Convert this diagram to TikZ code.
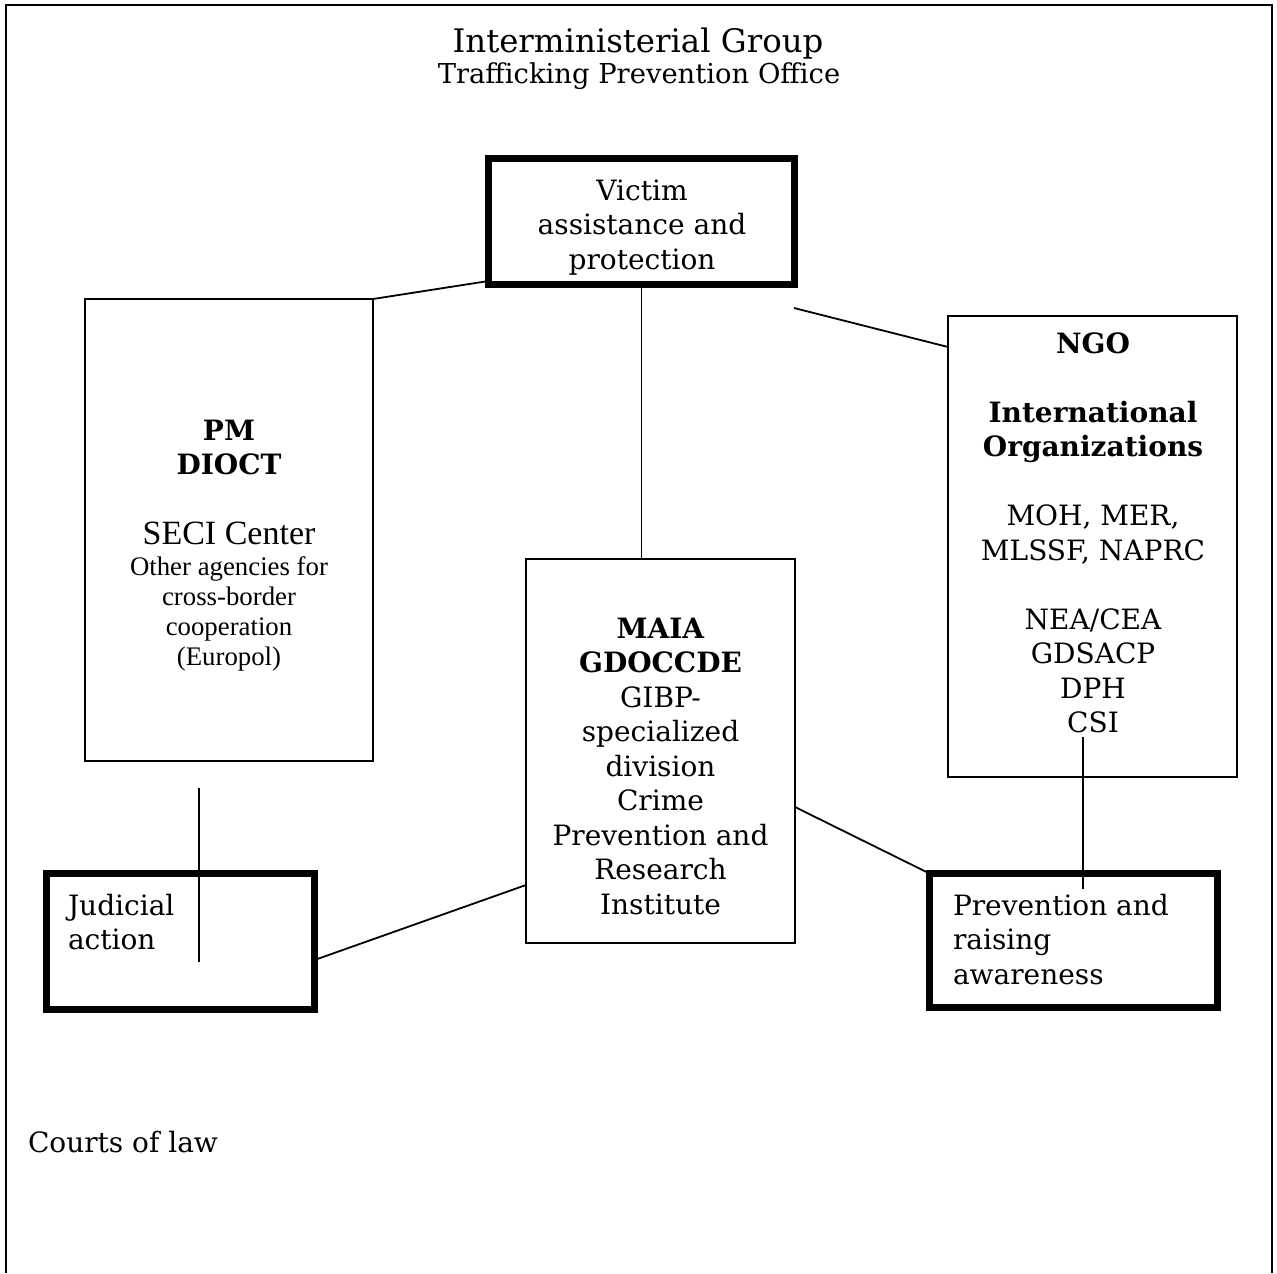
\documentclass[tikz,border=0pt]{standalone}
\usepackage{fontspec}
\setmainfont{DejaVu Serif}
\newfontfamily\tnr{Liberation Serif}
\usetikzlibrary{calc}
\newcommand\clines[1]{\begin{tabular}[t]{@{}c@{}}#1\end{tabular}}
\newcommand\llines[1]{\begin{tabular}[t]{@{}l@{}}#1\end{tabular}}
\tikzset{
  thinbox/.style={draw, line width=0.9pt, inner sep=0pt, outer sep=0pt},
  thickbox/.style={draw, line width=3.5pt, inner sep=0pt, outer sep=0pt},
  conn/.style={line width=0.9pt},
  txt/.style={inner sep=0pt, outer sep=0pt, anchor=base, font=\fontsize{14}{17.25}\selectfont},
  ltxt/.style={txt, anchor=base west},
  smalltxt/.style={inner sep=0pt, outer sep=0pt, anchor=base, font=\tnr\fontsize{13.4}{15}\selectfont},
}
\begin{document}
\begin{tikzpicture}[x=0.5pt, y=-0.5pt]
\useasboundingbox (0,0) rectangle (1277,1273);
% outer frame (open at bottom)
\coordinate (fbl) at (6,1273);
\coordinate (ftl) at (6,5);
\coordinate (ftr) at (1272,5);
\coordinate (fbr) at (1272,1273);
\draw[line width=0.9pt] (fbl) -- (ftl) -- (ftr) -- (fbr);

% title
\node[txt, font=\fontsize{16.2}{20}\selectfont] (title1) at (638,53) {Interministerial Group};
\node[txt, font=\fontsize{13.7}{17}\selectfont] (title2) at (639,84) {Trafficking Prevention Office};

% boxes
\node[thickbox, minimum width=153pt, minimum height=63pt] (victim) at (641.5,221.5) {};
\node[thinbox, minimum width=144pt, minimum height=231pt] (pm) at (229,530) {};
\node[thinbox, minimum width=134.5pt, minimum height=192pt] (maia) at (660.5,751) {};
\node[thinbox, minimum width=144.5pt, minimum height=230.5pt] (ngo) at (1092.5,546.5) {};
\node[thickbox, minimum width=134pt, minimum height=68pt] (jud) at (180.5,941.5) {};
\node[thickbox, minimum width=144pt, minimum height=67pt] (prev) at (1073.5,940.5) {};

% texts
\node[txt] (victimtxt) at (642,200) {\clines{Victim\\assistance and\\protection}};
\node[txt] (pmtxt) at (229,440) {\clines{\textbf{PM}\\\textbf{DIOCT}}};
\node[inner sep=0pt, anchor=base, font=\tnr\fontsize{17}{20}\selectfont] (seci) at (229,544) {SECI Center};
\node[smalltxt] (pmsub) at (229,575) {\clines{Other agencies for\\cross-border\\cooperation\\(Europol)}};
\node[txt] (maiatxt) at (660.5,638) {\clines{\textbf{MAIA}\\\textbf{GDOCCDE}\\GIBP-\\specialized\\division\\Crime\\Prevention and\\Research\\Institute}};
\node[txt] (ngotxt) at (1093,353) {\clines{\textbf{NGO}\\ \\\textbf{International}\\\textbf{Organizations}\\ \\MOH, MER,\\MLSSF, NAPRC\\ \\NEA/CEA\\GDSACP\\DPH\\CSI}};
\node[ltxt] (judtxt) at (68,915) {\llines{Judicial\\action}};
\node[ltxt] (prevtxt) at (953,915) {\llines{Prevention and\\raising\\awareness}};
\node[ltxt] (courts) at (28,1152) {Courts of law};

% connectors
\draw[conn] (pm.north east) -- ($(victim.south west)+(0,-3.5)$);
\draw[conn] (victim.south) -- (victim.south |- maia.north);
\coordinate (vnfree) at (794,308);
\draw[conn] (vnfree) -- ($(ngo.north west)+(0,31)$);
\draw[conn] ($(maia.north east)+(0,248)$) -- (prev.north west);
\draw[conn] ($(jud.east)+(0,18.5)$) -- ($(maia.south west)+(0,-58)$);
\coordinate (jtop) at (199,788);
\coordinate (jbot) at (199,962);
\draw[conn] (jtop) -- (jbot);
\coordinate (csitop) at (1083,737);
\coordinate (csibot) at (1083,889);
\draw[conn] (csitop) -- (csibot);
\end{tikzpicture}
\end{document}
